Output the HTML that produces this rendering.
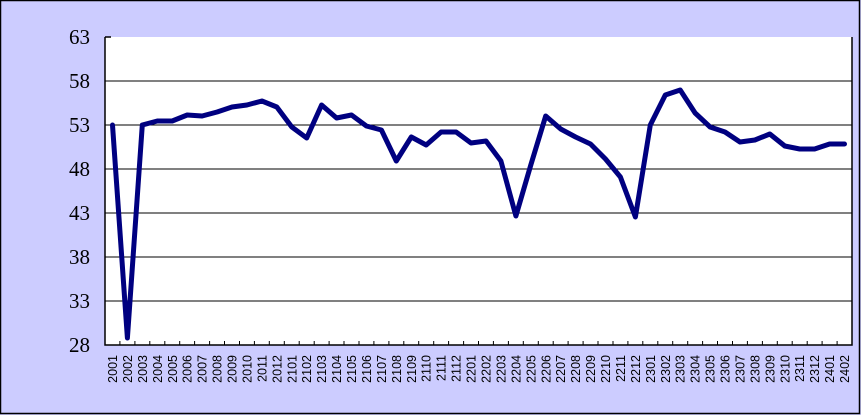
<!DOCTYPE html>
<html><head><meta charset="utf-8"><style>
html,body{margin:0;padding:0;background:#ccccff;}
svg{display:block;}
</style></head><body>
<svg width="861" height="415" xmlns="http://www.w3.org/2000/svg">
<rect x="0.5" y="0.5" width="859" height="413" fill="#ccccff" stroke="#000" stroke-width="1.5"/>
<rect x="105" y="37" width="747" height="308" fill="#fff"/>
<g stroke="#000" stroke-width="1">
<line x1="105" y1="81" x2="852" y2="81"/>
<line x1="105" y1="125" x2="852" y2="125"/>
<line x1="105" y1="169" x2="852" y2="169"/>
<line x1="105" y1="213" x2="852" y2="213"/>
<line x1="105" y1="257" x2="852" y2="257"/>
<line x1="105" y1="301" x2="852" y2="301"/>
</g>
<g stroke="#000" stroke-width="1.5" fill="none">
<polyline points="105,37 105,345 852,345 852,37"/>
<line x1="105" y1="37" x2="111" y2="37"/>
</g>
<g id="ticks" stroke="#000" stroke-width="1"></g>
<g font-family="Liberation Serif, serif" font-size="21" fill="#000" text-anchor="end">
<text x="90" y="44">63</text>
<text x="90" y="88">58</text>
<text x="90" y="132">53</text>
<text x="90" y="176">48</text>
<text x="90" y="220">43</text>
<text x="90" y="264">38</text>
<text x="90" y="308">33</text>
<text x="90" y="352">28</text>
</g>
<polyline id="ln" fill="none" stroke="#000080" stroke-width="5" stroke-linejoin="round" stroke-linecap="round" points=""/>
<g font-family="Liberation Sans, sans-serif" font-size="12.5" fill="#000" text-anchor="end">
<text transform="translate(117,355) rotate(-90)">2001</text>
<text transform="translate(131.9,355) rotate(-90)">2002</text>
<text transform="translate(146.9,355) rotate(-90)">2003</text>
<text transform="translate(161.8,355) rotate(-90)">2004</text>
<text transform="translate(176.8,355) rotate(-90)">2005</text>
<text transform="translate(191.7,355) rotate(-90)">2006</text>
<text transform="translate(206.6,355) rotate(-90)">2007</text>
<text transform="translate(221.6,355) rotate(-90)">2008</text>
<text transform="translate(236.5,355) rotate(-90)">2009</text>
<text transform="translate(251.5,355) rotate(-90)">2010</text>
<text transform="translate(266.4,355) rotate(-90)">2011</text>
<text transform="translate(281.3,355) rotate(-90)">2012</text>
<text transform="translate(296.3,355) rotate(-90)">2101</text>
<text transform="translate(311.2,355) rotate(-90)">2102</text>
<text transform="translate(326.2,355) rotate(-90)">2103</text>
<text transform="translate(341.1,355) rotate(-90)">2104</text>
<text transform="translate(356,355) rotate(-90)">2105</text>
<text transform="translate(371,355) rotate(-90)">2106</text>
<text transform="translate(385.9,355) rotate(-90)">2107</text>
<text transform="translate(400.9,355) rotate(-90)">2108</text>
<text transform="translate(415.8,355) rotate(-90)">2109</text>
<text transform="translate(430.7,355) rotate(-90)">2110</text>
<text transform="translate(445.7,355) rotate(-90)">2111</text>
<text transform="translate(460.6,355) rotate(-90)">2112</text>
<text transform="translate(475.6,355) rotate(-90)">2201</text>
<text transform="translate(490.5,355) rotate(-90)">2202</text>
<text transform="translate(505.4,355) rotate(-90)">2203</text>
<text transform="translate(520.4,355) rotate(-90)">2204</text>
<text transform="translate(535.3,355) rotate(-90)">2205</text>
<text transform="translate(550.3,355) rotate(-90)">2206</text>
<text transform="translate(565.2,355) rotate(-90)">2207</text>
<text transform="translate(580.1,355) rotate(-90)">2208</text>
<text transform="translate(595.1,355) rotate(-90)">2209</text>
<text transform="translate(610,355) rotate(-90)">2210</text>
<text transform="translate(625,355) rotate(-90)">2211</text>
<text transform="translate(639.9,355) rotate(-90)">2212</text>
<text transform="translate(654.8,355) rotate(-90)">2301</text>
<text transform="translate(669.8,355) rotate(-90)">2302</text>
<text transform="translate(684.7,355) rotate(-90)">2303</text>
<text transform="translate(699.7,355) rotate(-90)">2304</text>
<text transform="translate(714.6,355) rotate(-90)">2305</text>
<text transform="translate(729.5,355) rotate(-90)">2306</text>
<text transform="translate(744.5,355) rotate(-90)">2307</text>
<text transform="translate(759.4,355) rotate(-90)">2308</text>
<text transform="translate(774.4,355) rotate(-90)">2309</text>
<text transform="translate(789.3,355) rotate(-90)">2310</text>
<text transform="translate(804.2,355) rotate(-90)">2311</text>
<text transform="translate(819.2,355) rotate(-90)">2312</text>
<text transform="translate(834.1,355) rotate(-90)">2401</text>
<text transform="translate(849.1,355) rotate(-90)">2402</text>
</g>
</svg>
<script>
var ys=[125,338,125,121,121,115,116,112,107,105,101,107,127,138,105,118,115,126,130,161,137,145,132,132,143,141,161,216,165,116,129,137,144,159,177,217,125,95,90,113,127,132,142,140,134,146,149,149,144,144];
var w=747/50,p=[];
for(var i=0;i<ys.length;i++)p.push((105+w/2+i*w).toFixed(1)+','+ys[i]);
document.getElementById('ln').setAttribute('points',p.join(' '));
var t=document.getElementById('ticks'),s='';
for(var k=1;k<50;k++){var x=(105+k*w).toFixed(1);s+='<line x1="'+x+'" y1="341" x2="'+x+'" y2="345"/>';}
t.innerHTML=s;
</script>
</body></html>
